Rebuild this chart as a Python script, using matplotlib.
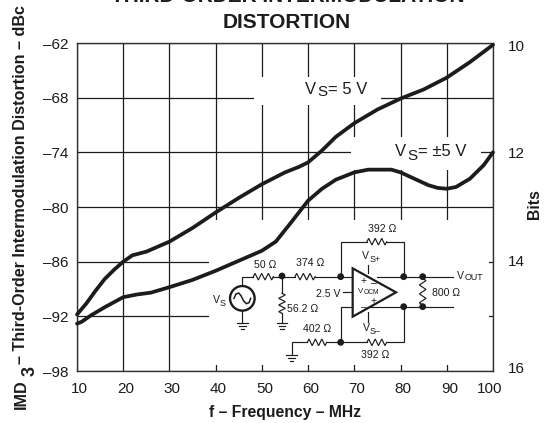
import matplotlib
matplotlib.use("Agg")
import matplotlib.pyplot as plt
from matplotlib.patches import Rectangle, Circle, Polygon
from matplotlib.transforms import ScaledTranslation

plt.rcParams['font.family'] = ['Liberation Sans', 'DejaVu Sans']

TITLE = ["THIRD-ORDER INTERMODULATION", "DISTORTION"]
freq_5v = [10, 12, 14, 16, 18, 20, 22, 25, 30, 35, 40, 45, 50, 55, 58, 60, 63, 66, 70, 75, 80, 85, 90, 95, 100]
imd_5v = [-91.8, -90.6, -89.2, -87.9, -86.9, -86.0, -85.3, -84.9, -83.8, -82.3, -80.6, -79.0, -77.5, -76.2, -75.6, -75.1, -73.8, -72.3, -70.8, -69.3, -68.1, -67.1, -65.8, -64.1, -62.2]
freq_15v = [10, 11, 13, 16, 20, 23, 26, 30, 35, 40, 45, 50, 53, 56, 58, 60, 63, 66, 70, 73, 78, 80, 83, 86, 88, 90, 92, 95, 98, 100]
imd_15v = [-92.8, -92.6, -91.9, -91.0, -89.9, -89.6, -89.4, -88.8, -88.0, -87.0, -85.9, -84.8, -83.8, -81.9, -80.6, -79.3, -78.0, -77.0, -76.2, -75.9, -75.9, -76.2, -76.9, -77.6, -77.9, -78.0, -77.8, -76.9, -75.4, -74.0]
x_ticks = [10, 20, 30, 40, 50, 60, 70, 80, 90, 100]
y_ticks = [-62, -68, -74, -80, -86, -92, -98]
y_labels = ["–62", "–68", "–74", "–80", "–86", "–92", "–98"]
bits_ticks = [10, 12, 14, 16]

W, H = 551, 423
fig = plt.figure(figsize=(W/100, H/100), dpi=100)
ink = "#1c1c1c"
ax = fig.add_axes([77/W, 1-371/H, (493-77)/W, (371-43)/H])
ax.set_xlim(10, 100); ax.set_ylim(-98, -62)
ax.set_xticks(x_ticks); ax.set_yticks(y_ticks); ax.set_yticklabels(y_labels)
ax.tick_params(length=0, labelsize=11, colors=ink, pad=6)
ax.tick_params(axis='x', pad=8)
ax.grid(True, color=ink, lw=0.9, zorder=1)
ax.set_axisbelow(True)
for s in ax.spines.values():
    s.set_color("#333333"); s.set_linewidth(1.0); s.set_zorder(6)
# x tick labels sit slightly inward of their ticks in the reference
for lab, v in zip(ax.get_xticklabels(), x_ticks):
    dx = -3/100 if v == 100 else 2.5/100
    lab.set_transform(lab.get_transform() + ScaledTranslation(dx, 0, fig.dpi_scale_trans))

ax2 = ax.twinx()
ax2.set_ylim(16.06, 9.96)
ax2.set_yticks(bits_ticks)
ax2.tick_params(length=0, labelsize=11, colors=ink, pad=11)
for s in ax2.spines.values():
    s.set_visible(False)

# pixel overlay for masks, annotations and inset schematic
ov = fig.add_axes([0, 0, 1, 1], zorder=ax2.get_zorder()+1)
ov.set_xlim(0, W); ov.set_ylim(H, 0); ov.axis('off'); ov.patch.set_alpha(0)

for (x0, y0, x1, y1) in [(254, 77, 381, 105), (351, 137, 481, 170), (209, 220, 489, 365)]:
    ov.add_patch(Rectangle((x0, y0), x1-x0, y1-y0, fc='white', ec='none', zorder=1))

# curves drawn from data, placed on top of masks
tr = ax.transData
ov.plot(freq_5v, imd_5v, transform=tr, color=ink, lw=2.7, solid_joinstyle='round', solid_capstyle='round', zorder=3, clip_on=False)
ov.plot(freq_15v, imd_15v, transform=tr, color=ink, lw=2.7, solid_joinstyle='round', solid_capstyle='round', zorder=3, clip_on=False)
ov.set_xlim(0, W); ov.set_ylim(H, 0)

def T(x, y, s, size=10, **kw):
    kw.setdefault('ha', 'center'); kw.setdefault('va', 'center'); kw.setdefault('color', ink)
    ov.text(x, y, s, fontsize=size, zorder=5, clip_on=False, **kw)

T(288, -4, TITLE[0], 15, fontweight='bold')
T(287, 22, TITLE[1], 15, fontweight='bold')
T(285, 413, "f – Frequency – MHz", 11.3, fontweight='bold')
T(535, 204, "Bits", 11.3, fontweight='bold', rotation=90)
T(21, 184, "– Third-Order Intermodulation Distortion – dBc", 11.6, fontweight='bold', rotation=90)
T(21, 394, "IMD", 11.6, fontweight='bold', rotation=90)
T(30, 371, "3", 13, fontweight='bold', rotation=90)

def VS(x, y, sub, rest):
    T(x, y, "V", 12, ha='left')
    T(x+12, y+3.5, sub, 11, ha='left')
    T(x+23.5, y, rest, 12, ha='left')

VS(305, 89, "S", "= 5 V")
VS(395, 152, "S", "= ±5 V")

def Z(x, y):
    return 220+x/3, 210+y/3

def wire(*pts, lw=0.85):
    p = [Z(*q) for q in pts]
    ov.plot([a for a, _ in p], [b for _, b in p], color=ink, lw=lw, solid_joinstyle='miter', zorder=4, clip_on=False)

def res_h(x0, x1, y):
    n = 6; pts = [(x0, y)]
    for i in range(n):
        pts.append((x0+(x1-x0)*(i+0.5)/n, y+(-10 if i % 2 == 0 else 10)))
    pts.append((x1, y)); wire(*pts)

def res_v(x, y0, y1):
    n = 6; pts = [(x, y0)]
    for i in range(n):
        pts.append((x+(10 if i % 2 == 0 else -10), y0+(y1-y0)*(i+0.5)/n))
    pts.append((x, y1)); wire(*pts)

def gnd(x, y):
    wire((x-16, y), (x+16, y)); wire((x-10, y+9), (x+10, y+9)); wire((x-5, y+18), (x+5, y+18))

def dot(x, y):
    ov.add_patch(Circle(Z(x, y), 3.4, fc=ink, ec='none', zorder=4))

# input side
wire((67, 228), (67, 200), (100, 200)); res_h(100, 160, 200); wire((160, 200), (225, 200))
res_h(225, 285, 200); wire((285, 200), (398, 200))
wire((186, 200), (186, 250)); res_v(186, 250, 310); wire((186, 310), (186, 340)); gnd(186, 340)
wire((67, 302), (67, 338)); gnd(67, 338)
ov.add_patch(Circle(Z(67, 265), 12.3, fc='white', ec=ink, lw=1.7, zorder=4))
wire((42, 265), (48, 252), (56, 249), (63, 257), (71, 273), (79, 281), (87, 278), (92, 265), lw=1.1)
# feedback
wire((362, 200), (362, 95), (441, 95)); res_h(441, 500, 95); wire((500, 95), (551, 95), (551, 200))
wire((470, 200), (700, 200)); wire((425, 290), (700, 290))
res_v(608, 205, 285)
wire((398, 290), (362, 290), (362, 397))
wire((215, 435), (215, 397), (262, 397)); res_h(262, 320, 397); wire((320, 397), (441, 397))
res_h(441, 500, 397); wire((500, 397), (551, 397), (551, 290)); gnd(215, 435)
wire((368, 245), (398, 245)); wire((443, 165), (443, 190)); wire((443, 305), (443, 335))
ov.add_patch(Polygon([Z(398, 175), Z(398, 320), Z(528, 247)], closed=True, fc='white', ec=ink, lw=1.6, zorder=4))
for p in [(186, 198), (362, 200), (551, 200), (608, 200), (551, 290), (608, 290), (362, 397)]:
    dot(*p)

s = 7.6
for x, y, t in [(135, 166, "50 Ω"), (271, 160, "374 Ω"), (486, 58, "392 Ω"), (248, 297, "56.2 Ω"),
                (290, 357, "402 Ω"), (465, 435, "392 Ω"), (677, 250, "800 Ω")]:
    T(*Z(x, y), t, s)
T(*Z(325, 252), "2.5 V", s)
T(*Z(431, 212), "+", 7.5); T(*Z(461, 220), "–", 7.5)
T(*Z(431, 290), "–", 7.5); T(*Z(461, 274), "+", 7.5)
T(*Z(422, 244), "V", 5.6); T(*Z(455, 247), "OCM", 4.8)
T(*Z(437, 138), "V", s); T(*Z(465, 150), "S+", 6.4)
T(*Z(438, 354), "V", s); T(*Z(466, 366), "S–", 6.4)
T(*Z(722, 197), "V", s); T(*Z(762, 203), "OUT", 6.4)
T(216, 300, "V", s); T(222.5, 303, "S", 6.4)

fig.savefig("out.png", dpi=100)
